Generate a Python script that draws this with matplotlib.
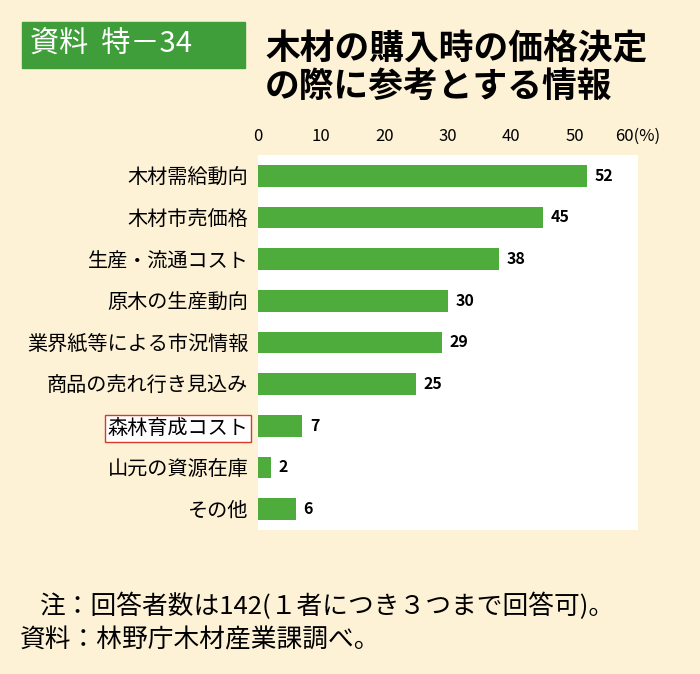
import matplotlib.pyplot as plt
from matplotlib.patches import Rectangle

plt.rcParams['font.family'] = ['Noto Sans CJK JP', 'DejaVu Sans']

categories = ['木材需給動向', '木材市売価格', '生産・流通コスト', '原木の生産動向',
              '業界紙等による市況情報', '商品の売れ行き見込み', '森林育成コスト',
              '山元の資源在庫', 'その他']
values = [52, 45, 38, 30, 29, 25, 7, 2, 6]
ticks = [0, 10, 20, 30, 40, 50, 60]
tick_labels = ['0', '10', '20', '30', '40', '50', '60(%)']

bg = '#fdf1d6'
green = '#4eac3c'

fig = plt.figure(figsize=(7, 6.74), dpi=100, facecolor=bg)
ax = fig.add_axes([258 / 700, 1 - 530 / 674, 380 / 700, 375 / 674])
ax.set_facecolor('white')

y = list(range(len(categories)))
ax.barh(y, values, height=0.52, color=green)
for yi, v in zip(y, values):
    ax.text(v + 1.2, yi, str(v), va='center', ha='left', fontsize=11.5, fontweight='bold')

ax.set_xlim(0, 60)
ax.set_ylim(len(categories) - 0.5, -0.5)
ax.xaxis.tick_top()
ax.set_xticks(ticks)
ax.set_xticklabels(tick_labels, fontsize=12)
ax.set_yticks(y)
ax.set_yticklabels(categories, fontsize=14.5)
ax.tick_params(length=0, pad=7)
for s in ax.spines.values():
    s.set_visible(False)

# 森林育成コスト に赤枠
lab = ax.get_yticklabels()[6]
lab.set_bbox(dict(facecolor='white', edgecolor='#d9382b', linewidth=1, pad=2))

# 見出し
fig.patches.append(Rectangle((22 / 700, 1 - 68 / 674), 223 / 700, 46 / 674,
                             transform=fig.transFigure, color='#3f9e3a'))
fig.text(30 / 700, 1 - 45 / 674, '資料  特－34', color='white', fontsize=21, va='center')
fig.text(265 / 700, 1 - 68 / 674, '木材の購入時の価格決定\nの際に参考とする情報',
         fontsize=25, fontweight='bold', va='center', linespacing=1.1)

fig.text(40 / 700, 1 - 606 / 674, '注：回答者数は142(１者につき３つまで回答可)。', fontsize=18.5, va='center')
fig.text(20 / 700, 1 - 640 / 674, '資料：林野庁木材産業課調べ。', fontsize=18.5, va='center')

fig.savefig('out.png', dpi=100, facecolor=bg)
